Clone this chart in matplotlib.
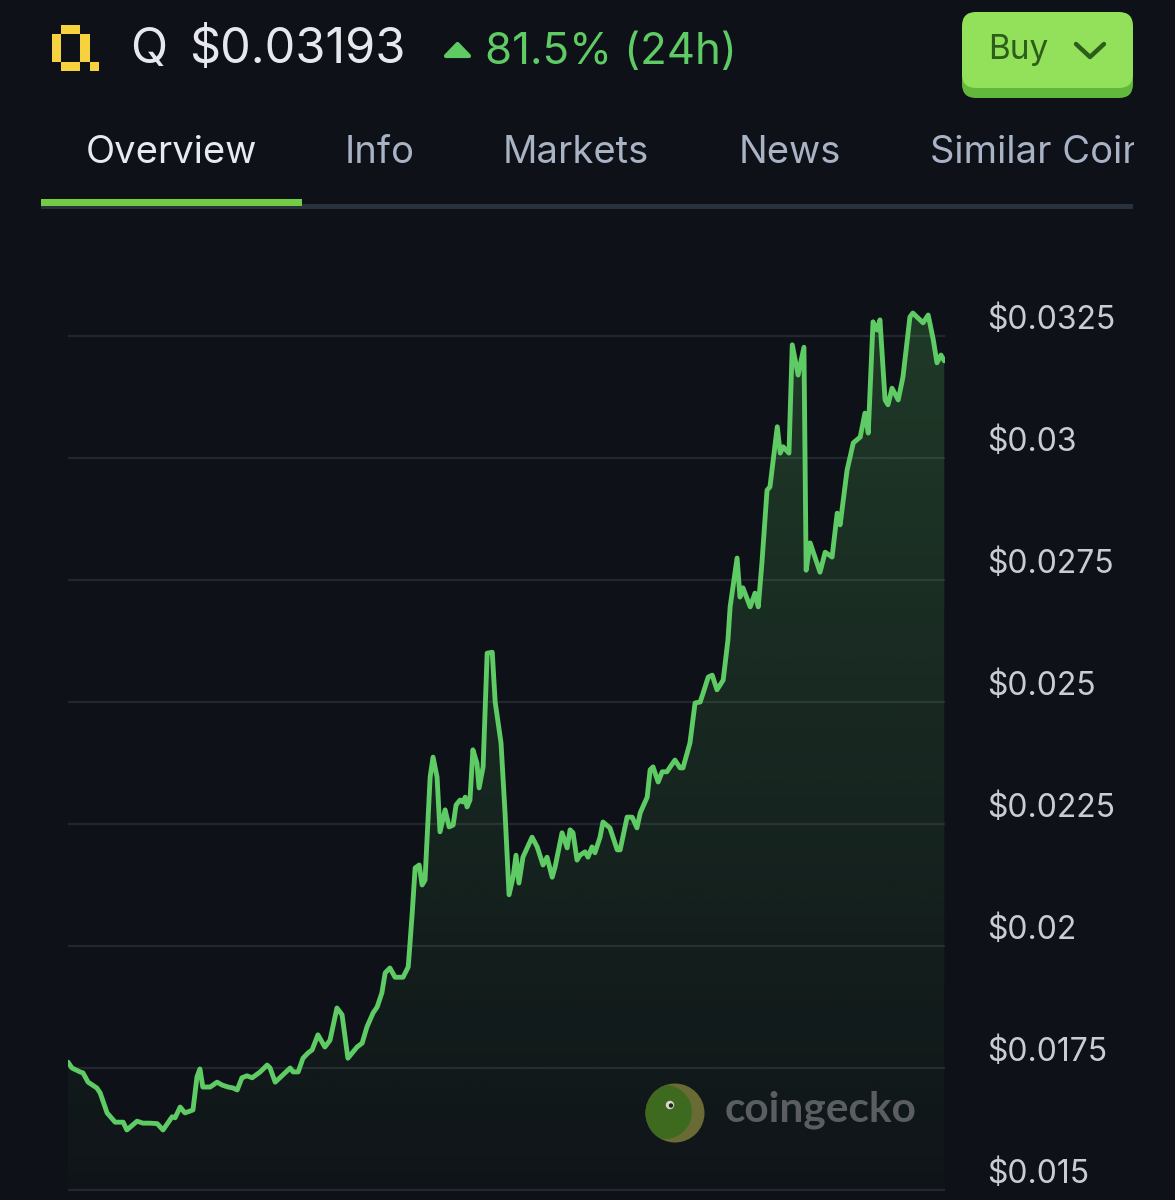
import numpy as np
import matplotlib
matplotlib.use("Agg")
import matplotlib.pyplot as plt
from matplotlib.patches import Rectangle, FancyBboxPatch, Circle, Polygon
from matplotlib.colors import to_rgb
from matplotlib.transforms import ScaledTranslation

plt.rcParams['font.family'] = ['Inter', 'DejaVu Sans']

# 24h price of Q (hours since start, USD)
hours = [0, 0.11, 0.33, 0.41, 0.55, 0.79, 0.88, 1.07, 1.29, 1.51, 1.61, 1.89, 2.05, 2.24, 2.44,
         2.60, 2.85, 2.93, 3.07, 3.20, 3.42, 3.53, 3.61, 3.69, 3.89, 4.08, 4.22, 4.38, 4.52, 4.63,
         4.76, 4.90, 5.04, 5.26, 5.45, 5.53, 5.67, 5.88, 6.08, 6.16, 6.30, 6.43, 6.57, 6.68, 6.84,
         7.03, 7.17, 7.36, 7.50, 7.66, 7.91, 8.05, 8.18, 8.35, 8.46, 8.59, 8.68, 8.81, 8.95, 9.17,
         9.31, 9.36, 9.42, 9.50, 9.61, 9.69, 9.77, 9.91, 9.99, 10.10, 10.18, 10.32, 10.43, 10.54,
         10.62, 10.73, 10.81, 10.87, 10.92, 11.00, 11.08, 11.19, 11.25, 11.36, 11.47, 11.61, 11.69,
         11.85, 11.96, 12.07, 12.18, 12.26, 12.34, 12.45, 12.70, 12.84, 13.00, 13.11, 13.25, 13.33,
         13.52, 13.66, 13.74, 13.82, 13.93, 14.01, 14.15, 14.23, 14.34, 14.42, 14.56, 14.64, 14.83,
         15.03, 15.11, 15.30, 15.44, 15.57, 15.66, 15.85, 15.93, 16.01, 16.15, 16.26, 16.39, 16.48,
         16.61, 16.75, 16.83, 17.02, 17.16, 17.30, 17.38, 17.52, 17.63, 17.76, 17.93, 18.06, 18.12,
         18.31, 18.39, 18.47, 18.67, 18.80, 18.89, 18.99, 19.13, 19.21, 19.41, 19.49, 19.57, 19.73,
         19.82, 19.98, 20.14, 20.20, 20.31, 20.58, 20.72, 20.91, 21.05, 21.13, 21.32, 21.49, 21.68,
         21.81, 21.90, 22.03, 22.14, 22.22, 22.36, 22.44, 22.55, 22.72, 22.85, 23.04, 23.12, 23.40,
         23.54, 23.68, 23.78, 23.89, 23.98]
prices = [0.01762, 0.01750, 0.01742, 0.01740, 0.01721, 0.01709, 0.01699, 0.01658, 0.01639, 0.01639,
          0.01623, 0.01641, 0.01637, 0.01637, 0.01636, 0.01623, 0.01650, 0.01648, 0.01670, 0.01658,
          0.01664, 0.01732, 0.01748, 0.01711, 0.01711, 0.01721, 0.01715, 0.01711, 0.01709, 0.01705,
          0.01730, 0.01734, 0.01730, 0.01742, 0.01756, 0.01750, 0.01721, 0.01736, 0.01750, 0.01742,
          0.01742, 0.01770, 0.01781, 0.01787, 0.01818, 0.01793, 0.01807, 0.01873, 0.01859, 0.01770,
          0.01793, 0.01801, 0.01834, 0.01863, 0.01875, 0.01904, 0.01945, 0.01955, 0.01936, 0.01936,
          0.01957, 0.02006, 0.02068, 0.02160, 0.02166, 0.02125, 0.02135, 0.02346, 0.02387, 0.02346,
          0.02234, 0.02279, 0.02244, 0.02248, 0.02289, 0.02299, 0.02295, 0.02305, 0.02285, 0.02299,
          0.02402, 0.02375, 0.02324, 0.02367, 0.02600, 0.02602, 0.02500, 0.02416, 0.02273, 0.02105,
          0.02141, 0.02186, 0.02129, 0.02182, 0.02223, 0.02203, 0.02166, 0.02182, 0.02141, 0.02162,
          0.02232, 0.02201, 0.02238, 0.02232, 0.02176, 0.02186, 0.02193, 0.02182, 0.02203, 0.02191,
          0.02223, 0.02254, 0.02242, 0.02197, 0.02197, 0.02264, 0.02264, 0.02242, 0.02273, 0.02305,
          0.02361, 0.02367, 0.02336, 0.02357, 0.02357, 0.02367, 0.02381, 0.02365, 0.02365, 0.02416,
          0.02498, 0.02500, 0.02518, 0.02551, 0.02555, 0.02525, 0.02545, 0.02627, 0.02695, 0.02795,
          0.02715, 0.02734, 0.02695, 0.02723, 0.02695, 0.02785, 0.02934, 0.02941, 0.03064, 0.03010,
          0.03023, 0.03010, 0.03232, 0.03170, 0.03227, 0.02770, 0.02826, 0.02766, 0.02807, 0.02797,
          0.02887, 0.02863, 0.02975, 0.03031, 0.03043, 0.03092, 0.03051, 0.03279, 0.03262, 0.03283,
          0.03119, 0.03109, 0.03143, 0.03119, 0.03166, 0.03289, 0.03297, 0.03277, 0.03293, 0.03242,
          0.03195, 0.03211, 0.03199]

yticks = [0.015, 0.0175, 0.02, 0.0225, 0.025, 0.0275, 0.03, 0.0325]
ylabels = ['$0.015', '$0.0175', '$0.02', '$0.0225', '$0.025', '$0.0275', '$0.03', '$0.0325']
tabs = ['Overview', 'Info', 'Markets', 'News', 'Similar Coins']
tab_x = [86, 345, 503, 739, 930]

bg = '#0e1117'
green = '#5ecb65'

W, H = 1175, 1200
fig = plt.figure(figsize=(W / 100, H / 100), dpi=100, facecolor=bg)

# chart
ax = fig.add_axes([68 / W, 1 - 1190 / H, 877 / W, (1190 - 208) / H])
ax.set_facecolor(bg)
ax.hlines(yticks, 0, 24, color='#22262e', lw=1.6, zorder=0, clip_on=False)
ax.plot(hours, prices, color=green, lw=3.5, solid_joinstyle='round', solid_capstyle='round', zorder=3)

fill = ax.fill_between(hours, prices, 0.015, color='none', lw=0)
n = 256
rgba = np.zeros((n, 1, 4))
rgba[..., :3] = to_rgb(green)
rgba[:, 0, 3] = np.linspace(0.02, 0.22, n)
im = ax.imshow(rgba, extent=[hours[0], hours[-1], 0.015, max(prices)], origin='lower',
               aspect='auto', zorder=1, interpolation='bilinear')
im.set_clip_path(fill.get_paths()[0], transform=ax.transData)

ax.set_xlim(0, 24)
ax.set_ylim(0.015, 0.015 + 982 / 48800)
ax.set_xticks([])
ax.set_yticks([])
for s in ax.spines.values():
    s.set_visible(False)

off = ScaledTranslation(0, 16 / 100, fig.dpi_scale_trans)
for v, lab in zip(yticks, ylabels):
    ax.text(1 + 42 / 877, v, lab, transform=ax.get_yaxis_transform() + off, ha='left', va='center',
            fontsize=23, color='#c8cdd5', clip_on=False)

# overlay in pixel coords for the app chrome
ov = fig.add_axes([0, 0, 1, 1], zorder=5)
ov.set_xlim(0, W)
ov.set_ylim(H, 0)
ov.axis('off')
ov.patch.set_alpha(0)

# pixel Q logo
cw, ch = 9.4, 9.2
cells = [(1, 0), (2, 0), (0, 1), (3, 1), (0, 2), (3, 2), (0, 3), (3, 3), (1, 4), (2, 4), (4, 4)]
for c, r in cells:
    ov.add_patch(Rectangle((52 + c * cw, 25 + r * ch), cw, ch, color='#f6d23f', lw=0))

ov.text(130, 50, 'Q', fontsize=35, color='#e6e8ee', va='center', ha='left')
ov.text(189, 50, '$0.03193', fontsize=35, color='#e6e8ee', va='center', ha='left')
ov.add_patch(Polygon([(446, 56), (457.5, 44), (469, 56)], closed=True, color=green, lw=3,
                     joinstyle='round'))
ov.text(485, 53, '81.5% (24h)', fontsize=31.5, color=green, va='center', ha='left')

# buy button
ov.add_patch(FancyBboxPatch((962, 22), 171, 76, boxstyle='round,pad=0,rounding_size=14',
                            color='#62b83a', lw=0))
ov.add_patch(FancyBboxPatch((962, 12), 171, 76, boxstyle='round,pad=0,rounding_size=14',
                            color='#93e05a', lw=0))
ov.text(988, 50, 'Buy', fontsize=24, color='#2c5e1a', va='center', ha='left')
ov.plot([1076, 1090, 1104], [44, 57, 44], color='#2c5e1a', lw=3.2, solid_capstyle='round',
        solid_joinstyle='round')

# tabs
for i, (t, x) in enumerate(zip(tabs, tab_x)):
    ov.text(x, 153, t, fontsize=27.5, color='#e8eaef' if i == 0 else '#a8b3c5',
            va='center', ha='left')
ov.add_patch(Rectangle((1134, 110), 60, 85, color=bg, lw=0, zorder=4))  # tab strip is cut off
ov.add_patch(Rectangle((41, 204), 1092, 5, color='#29313c', lw=0))
ov.add_patch(Rectangle((41, 199), 261, 7, color='#72cc44', lw=0))

# coingecko watermark
outer = Circle((675, 1113), 29.5, color='#6a6a34', lw=0)
ov.add_patch(outer)
head = Circle((665, 1112), 27, color='#3e6a20', lw=0)
ov.add_patch(head)
head.set_clip_path(outer)
ov.add_patch(Circle((670, 1105), 4.2, color='#d8d8d0', lw=0))
ov.add_patch(Circle((671, 1105.5), 2.2, color='#1c2a14', lw=0))
ov.text(725, 1110, 'coingecko', fontsize=30.5, fontweight='bold', family=['Lato', 'DejaVu Sans'],
        color='#5a5d62', va='center', ha='left')

fig.savefig('out.png', dpi=100, facecolor=bg)
